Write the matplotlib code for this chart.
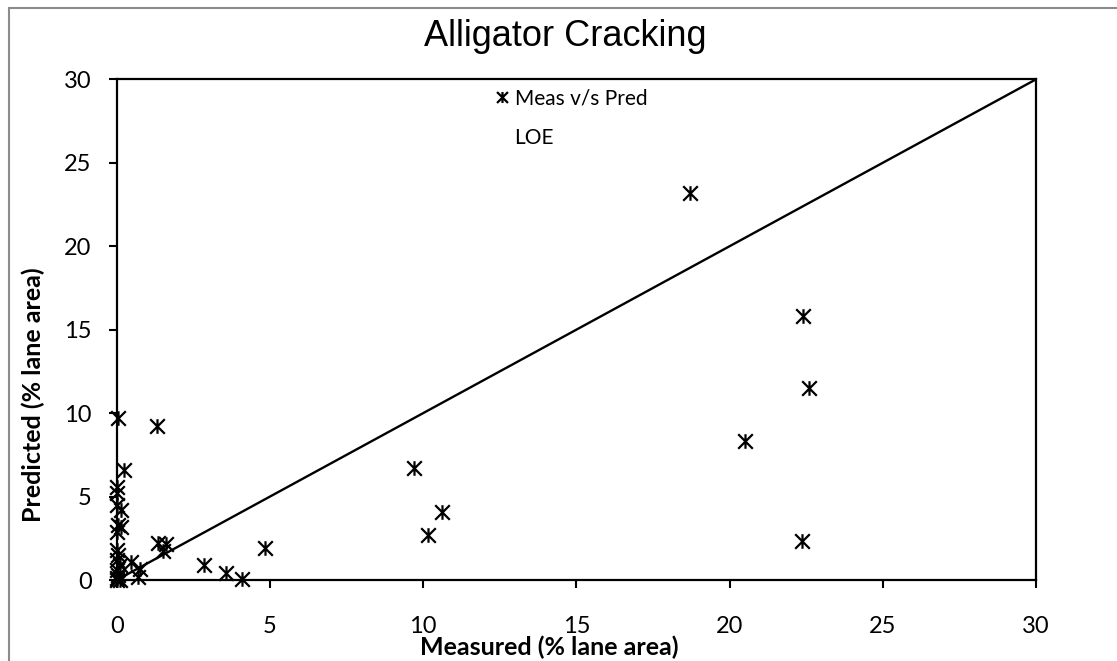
import matplotlib
matplotlib.use("Agg")
import matplotlib.pyplot as plt
from matplotlib.path import Path
from matplotlib.lines import Line2D
from matplotlib.patches import Rectangle

# Measured vs predicted alligator cracking (% lane area)
measured = [18.7, 22.4, 22.6, 20.5, 22.35, 9.7, 10.6, 10.15,
            0.05, 1.3, 0.25, 0.0, 0.0, 0.0, 0.15, 0.05, 0.15, 0.0,
            1.35, 1.6, 1.5, 0.45, 0.75, 0.7, 2.85, 3.55, 4.1, 4.85,
            0.0, 0.05, 0.0, 0.1, 0.0, 0.05, 0.0, 0.1, 0.0]
predicted = [23.2, 15.8, 11.5, 8.3, 2.35, 6.7, 4.05, 2.7,
             9.7, 9.2, 6.6, 5.6, 5.2, 4.5, 4.2, 3.3, 3.2, 2.9,
             2.2, 2.15, 1.75, 1.1, 0.65, 0.2, 0.9, 0.4, 0.05, 1.9,
             1.8, 1.5, 1.2, 0.9, 0.6, 0.3, 0.1, 0.0, 0.0]

# Line of equality
loe_x = [0, 30]
loe_y = [0, 30]

ticks = [0, 5, 10, 15, 20, 25, 30]

# Star marker: an X crossed by a vertical bar
star = Path([(-1, -1), (1, 1), (-1, 1), (1, -1), (0, -1), (0, 1)],
            [Path.MOVETO, Path.LINETO, Path.MOVETO, Path.LINETO,
             Path.MOVETO, Path.LINETO])

txt_font = ["Lato", "DejaVu Sans"]

fig = plt.figure(figsize=(11.17, 6.61), dpi=100)
ax = fig.add_axes([0.1045, 0.1225, 0.8230, 0.7575])

pts, = ax.plot(measured, predicted, linestyle="none", marker=star,
               markersize=10.5, markeredgewidth=1.6, color="black",
               clip_on=False, zorder=3, label="Meas v/s Pred")
loe, = ax.plot(loe_x, loe_y, color="black", linewidth=1.7,
               zorder=2, label="LOE")

ax.set_xlim(0, 30)
ax.set_ylim(0, 30)
ax.set_xticks(ticks)
ax.set_yticks(ticks)
ax.set_xticklabels([str(t) for t in ticks], fontsize=17, family=txt_font)
ax.set_yticklabels([str(t) for t in ticks], fontsize=17, family=txt_font)
ax.tick_params(axis="both", direction="out", length=6, width=1.5,
               color="black")
ax.tick_params(axis="y", pad=12)
ax.tick_params(axis="x", pad=20)
for s in ax.spines.values():
    s.set_linewidth(1.6)
    s.set_color("black")

ax.set_xlabel("Measured (% lane area)", fontsize=18, fontweight="bold",
              family=txt_font, va="center")
ax.xaxis.set_label_coords(0.470, -0.134)
ax.set_ylabel("Predicted (% lane area)", fontsize=18, fontweight="bold",
              family=txt_font, va="center")
ax.yaxis.set_label_coords(-0.091, 0.37)
ax.set_title("Alligator Cracking", fontsize=26, family=["Liberation Sans"],
             x=0.4877, pad=24)

leg = ax.legend(handles=[pts, Line2D([], [], linestyle="none", color="none")],
                labels=["Meas v/s Pred", "LOE"],
                loc="upper left", bbox_to_anchor=(0.392, 1.02),
                frameon=False, handlelength=0.6, handletextpad=0.3,
                labelspacing=0.95, markerscale=0.75,
                prop={"family": txt_font, "size": 15})

# Light grey frame around the chart area
fig.patches.append(Rectangle((9 / 1117, -0.05), 1.2, 1 - 8 / 661 + 0.05,
                             transform=fig.transFigure, fill=False,
                             edgecolor="#8c8c8c", linewidth=1.5))

fig.savefig("out.png", dpi=100)
